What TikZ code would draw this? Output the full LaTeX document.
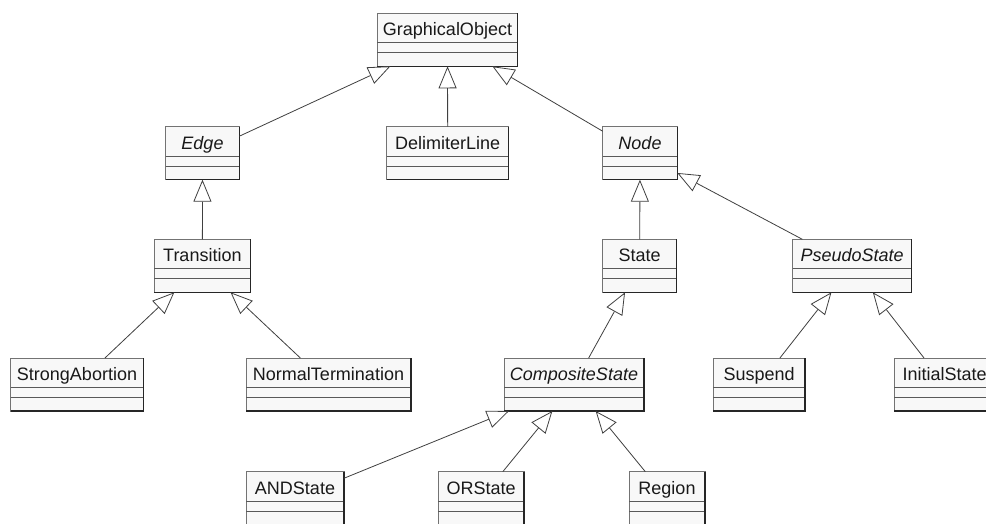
\documentclass[tikz,border=0pt]{standalone}
\usepackage{fontspec}
\setmainfont{Liberation Sans}
\usetikzlibrary{arrows.meta}

\tikzset{
  classbox/.style={rectangle, inner sep=0pt, outer sep=0pt, minimum height=53pt,
    fill=boxfill, draw=black!55, line width=1pt},
  boxshade/.style={draw=black!85, line width=1.3pt},
  comprule/.style={draw=black!65, line width=0.9pt},
  classname/.style={inner sep=0pt, font=\fontsize{18}{21}\selectfont, text=black!90},
  inherit/.style={draw=black!75, line width=0.8pt,
    -{Triangle[open, length=22pt, width=18pt, fill=white]}},
}
\definecolor{boxfill}{HTML}{F8F8F8}

% #1 name, #2 left, #3 top, #4 right, #5 class name
\newcommand\umlclass[5]{%
  \node[classbox, minimum width={#4-#2}, anchor=north west] (#1) at (#2,#3) {};
  \draw[comprule] ([yshift=-29.5pt]#1.north west) -- ([yshift=-29.5pt]#1.north east);
  \draw[comprule] ([yshift=-39.5pt]#1.north west) -- ([yshift=-39.5pt]#1.north east);
  \draw[boxshade] (#1.north east) -- (#1.south east) -- (#1.south west);
  \node[classname, anchor=base] (#1-name) at ([yshift=-22.5pt]#1.north) {#5};
}

\begin{document}
\begin{tikzpicture}[x=1pt, y=-1pt]
  \fill[white] (0,0) rectangle (986,523);
  \clip (0,0) rectangle (986,523);

  % classes
  \umlclass{GraphicalObject}{377.3}{13.3}{517.7}{GraphicalObject}
  \umlclass{Edge}{165.7}{126.7}{239.3}{\itshape Edge}
  \umlclass{DelimiterLine}{386.7}{126.7}{508.7}{DelimiterLine}
  \umlclass{Node}{602.7}{126.7}{677.3}{\itshape Node}
  \umlclass{Transition}{154}{239.3}{250.7}{Transition}
  \umlclass{State}{602.7}{239.3}{676.7}{State}
  \umlclass{PseudoState}{792.7}{239.3}{911.7}{\itshape PseudoState}
  \umlclass{StrongAbortion}{10.7}{358}{143.3}{StrongAbortion}
  \umlclass{NormalTermination}{246}{358}{411}{NormalTermination}
  \umlclass{CompositeState}{504}{358}{644}{\itshape CompositeState}
  \umlclass{Suspend}{713.3}{358}{805}{Suspend}
  \umlclass{InitialState}{894.3}{358}{995}{InitialState}
  \umlclass{ANDState}{246}{471.7}{344}{ANDState}
  \umlclass{ORState}{438.3}{471.7}{524}{ORState}
  \umlclass{Region}{629}{471.7}{705}{Region}

  % generalizations
  \draw[inherit] (Edge) -- (GraphicalObject);
  \draw[inherit] (DelimiterLine) -- (GraphicalObject);
  \draw[inherit] (Node) -- (GraphicalObject);
  \draw[inherit] (Transition) -- (Edge);
  \draw[inherit] (StrongAbortion) -- (Transition);
  \draw[inherit] (NormalTermination) -- (Transition);
  \draw[inherit] (State) -- (Node);
  \draw[inherit] (PseudoState) -- (Node);
  \draw[inherit] (CompositeState) -- (State);
  \draw[inherit] (Suspend) -- (PseudoState);
  \draw[inherit] (InitialState) -- (PseudoState);
  \draw[inherit] (ANDState) -- (CompositeState);
  \draw[inherit] (ORState) -- (CompositeState);
  \draw[inherit] (Region) -- (CompositeState);
\end{tikzpicture}
\end{document}
